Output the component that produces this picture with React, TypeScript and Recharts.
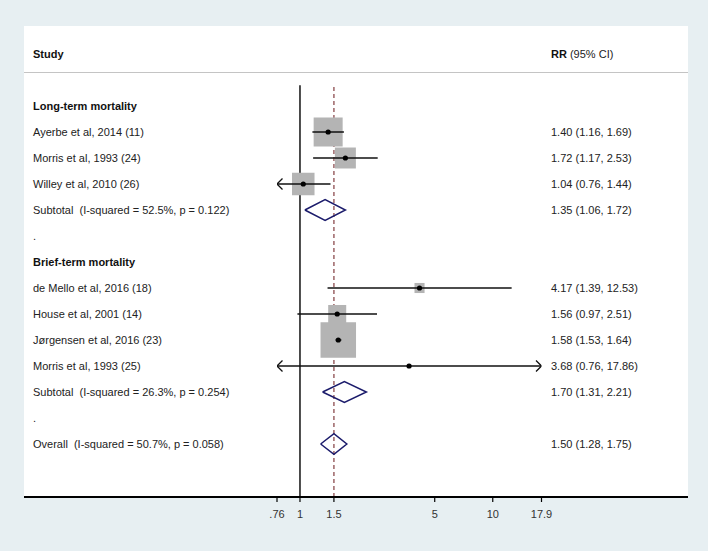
import React from 'react';
import { ComposedChart, XAxis, YAxis, Scatter, Line } from 'recharts';

// ---------- data ----------
const X_MIN = 0.76;
const X_MAX = 17.9;
const xTicks = [0.76, 1, 1.5, 5, 10, 17.9];
const xTickLabels = ['.76', '1', '1.5', '5', '10', '17.9'];

const rowLabels = [
  'Long-term mortality',
  'Ayerbe et al, 2014 (11)',
  'Morris et al, 1993 (24)',
  'Willey et al, 2010 (26)',
  'Subtotal  (I-squared = 52.5%, p = 0.122)',
  '.',
  'Brief-term mortality',
  'de Mello et al, 2016 (18)',
  'House et al, 2001 (14)',
  'Jørgensen et al, 2016 (23)',
  'Morris et al, 1993 (25)',
  'Subtotal  (I-squared = 26.3%, p = 0.254)',
  '.',
  'Overall  (I-squared = 50.7%, p = 0.058)',
];
const boldRows = [0, 6];

const studyRows = [1, 2, 3, 7, 8, 9, 10];
const studyEst = [1.40, 1.72, 1.04, 4.17, 1.56, 1.58, 3.68];
const studyLo = [1.16, 1.17, 0.76, 1.39, 0.97, 1.53, 0.76];
const studyHi = [1.69, 2.53, 1.44, 12.53, 2.51, 1.64, 17.86];
const studyWeight = [24.1, 12.6, 14.5, 2.9, 9.3, 36.1, 0.5];

const pooledRows = [4, 11, 13];
const pooledEst = [1.35, 1.70, 1.50];
const pooledLo = [1.06, 1.31, 1.28];
const pooledHi = [1.72, 2.21, 1.75];

const overallEst = 1.50;
const nullValue = 1;

// ---------- derived tables ----------
const HEADER_ROW = -2;
const Y_TOP = -3;
const Y_BOTTOM = 15;
const LINE_TOP = -0.8;
const DIAMOND_HALF = 0.4;
const BOX_K = 5.91;
const FONT = '"Liberation Sans", Arial, sans-serif';

const fmt = (e: number, l: number, h: number) => `${e.toFixed(2)} (${l.toFixed(2)}, ${h.toFixed(2)})`;

const rrByRow: Record<number, string> = {};
studyRows.forEach((r, i) => { rrByRow[r] = fmt(studyEst[i], studyLo[i], studyHi[i]); });
pooledRows.forEach((r, i) => { rrByRow[r] = fmt(pooledEst[i], pooledLo[i], pooledHi[i]); });

const nullLineData = [{ x: nullValue, y: LINE_TOP }, { x: nullValue, y: Y_BOTTOM }];
const overallLineData = [{ x: overallEst, y: LINE_TOP + 0.07 }, { x: overallEst, y: Y_BOTTOM }];
const boxData = studyRows.map((r, i) => ({ x: studyEst[i], y: r, w: studyWeight[i] }));
const dotData = studyRows.map((r, i) => ({ x: studyEst[i], y: r }));
const ciData = studyRows.map((r, i) => [
  { x: Math.max(studyLo[i], X_MIN), y: r },
  { x: Math.min(studyHi[i], X_MAX), y: r },
]);
const arrowData: { x: number; y: number; dir: number }[] = [];
studyRows.forEach((r, i) => {
  if (studyLo[i] <= X_MIN) arrowData.push({ x: X_MIN, y: r, dir: -1 });
  if (studyHi[i] >= X_MAX - 0.1) arrowData.push({ x: X_MAX, y: r, dir: 1 });
});
const diamondData = pooledRows.map((r, i) => [
  { x: pooledLo[i], y: r },
  { x: pooledEst[i], y: r - DIAMOND_HALF },
  { x: pooledHi[i], y: r },
  { x: pooledEst[i], y: r + DIAMOND_HALF },
  { x: pooledLo[i], y: r },
]);
const yTicks = [HEADER_ROW, ...rowLabels.map((_, i) => i)];

// ---------- shapes ----------
const BoxShape = (p: any) => {
  const { cx, cy, payload } = p;
  const s = BOX_K * Math.sqrt(payload.w);
  return <rect x={cx - s / 2} y={cy - s / 2} width={s} height={s} fill="#b4b4b4" />;
};
const DotShape = (p: any) => <circle cx={p.cx} cy={p.cy} r={2.6} fill="#000" />;
const ArrowShape = (p: any) => {
  const { cx, cy, payload } = p;
  const d = payload.dir;
  return (
    <path
      d={`M${cx - d * 5.5},${cy - 5.5} L${cx},${cy} L${cx - d * 5.5},${cy + 5.5}`}
      fill="none"
      stroke="#111"
      strokeWidth={1.3}
    />
  );
};

const RowTick = (props: any) => {
  const { y, payload } = props;
  const row = payload.value;
  const base = { fontFamily: FONT, fontSize: 11, fill: '#222', style: { whiteSpace: 'pre' as const } };
  if (row === HEADER_ROW) {
    return (
      <g>
        <text x={33} y={y} dy="0.35em" {...base} fontWeight="bold" fill="#111">Study</text>
        <text x={551} y={y} dy="0.35em" {...base}>
          <tspan fontWeight="bold" fill="#111">RR</tspan>
          <tspan> (95% CI)</tspan>
        </text>
      </g>
    );
  }
  const bold = boldRows.includes(row);
  return (
    <g>
      <text x={33} y={y} dy="0.35em" {...base} fontWeight={bold ? 'bold' : 'normal'} fill={bold ? '#111' : '#222'}>
        {rowLabels[row]}
      </text>
      {rrByRow[row] ? (
        <text x={551} y={y} dy="0.35em" {...base}>{rrByRow[row]}</text>
      ) : null}
    </g>
  );
};

export default function App() {
  return (
    <div style={{ position: 'absolute', left: 0, top: 0, width: 708, height: 551, background: '#e7eff2' }}>
      <div
        style={{
          position: 'absolute', left: 24, top: 26, width: 664, height: 470,
          background: '#fff', borderBottom: '2px solid #000',
        }}
      />
      <div style={{ position: 'absolute', left: 24, top: 72, width: 664, height: 0, borderTop: '1.5px solid #c4c4c4' }} />
      <div style={{ position: 'absolute', left: 0, top: 0 }}>
        <ComposedChart width={708} height={551} margin={{ top: 28, right: 166.5, bottom: 0, left: 0 }}>
          <XAxis
            type="number"
            dataKey="x"
            scale="log"
            domain={[X_MIN, X_MAX]}
            allowDataOverflow
            ticks={xTicks}
            interval={0}
            tickFormatter={(v: number) => xTickLabels[xTicks.indexOf(v)] ?? String(v)}
            axisLine={false}
            tickLine={{ stroke: '#000', strokeWidth: 1.2 }}
            tickSize={6}
            tickMargin={8}
            height={55}
            tick={{ fontSize: 11, fill: '#333', fontFamily: FONT }}
          />
          <YAxis
            type="number"
            dataKey="y"
            domain={[Y_TOP, Y_BOTTOM]}
            reversed
            allowDataOverflow
            ticks={yTicks}
            interval={0}
            width={277}
            axisLine={false}
            tickLine={false}
            tick={<RowTick />}
          />
          <Line
            zIndex={50}
            data={nullLineData}
            dataKey="y"
            type="linear"
            stroke="#111"
            strokeWidth={1.5}
            dot={false}
            activeDot={false}
            isAnimationActive={false}
          />
          <Line
            zIndex={50}
            data={overallLineData}
            dataKey="y"
            type="linear"
            stroke="#8c4b4e"
            strokeWidth={1.3}
            strokeDasharray="4 3"
            dot={false}
            activeDot={false}
            isAnimationActive={false}
          />
          <Scatter zIndex={100} data={boxData} shape={BoxShape} isAnimationActive={false} />
          {ciData.map((d, i) => (
            <Line
              zIndex={200}
              key={`ci${i}`}
              data={d}
              dataKey="y"
              type="linear"
              stroke="#111"
              strokeWidth={1.3}
              dot={false}
              activeDot={false}
              isAnimationActive={false}
            />
          ))}
          {diamondData.map((d, i) => (
            <Line
              zIndex={200}
              key={`dm${i}`}
              data={d}
              dataKey="y"
              type="linear"
              stroke="#1b1b6b"
              strokeWidth={1.5}
              dot={false}
              activeDot={false}
              isAnimationActive={false}
            />
          ))}
          <Scatter zIndex={300} data={dotData} shape={DotShape} isAnimationActive={false} />
          <Scatter zIndex={300} data={arrowData} shape={ArrowShape} isAnimationActive={false} />
        </ComposedChart>
      </div>
    </div>
  );
}
